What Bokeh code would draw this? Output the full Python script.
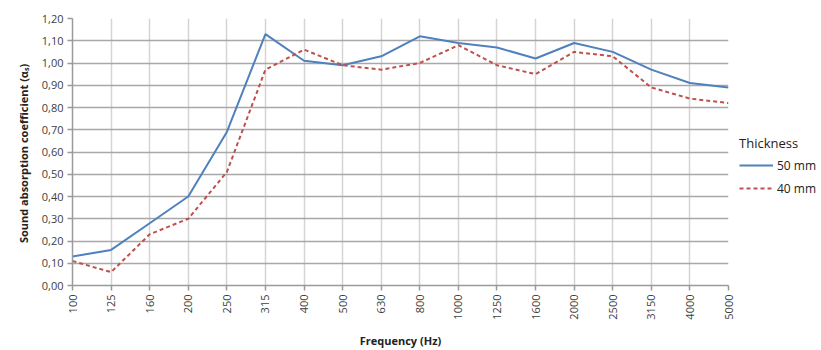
import math
from bokeh.plotting import figure
from bokeh.layouts import row
from bokeh.models import (Range1d, FixedTicker, CustomJSTickFormatter, Legend, LegendItem)
from bokeh.embed import file_html
from bokeh.resources import INLINE

frequencies = ["100", "125", "160", "200", "250", "315", "400", "500", "630", "800",
               "1000", "1250", "1600", "2000", "2500", "3150", "4000", "5000"]
alpha_50mm = [0.13, 0.16, 0.28, 0.40, 0.69, 1.13, 1.01, 0.99, 1.03, 1.12,
              1.09, 1.07, 1.02, 1.09, 1.05, 0.97, 0.91, 0.89]
alpha_40mm = [0.11, 0.06, 0.23, 0.30, 0.51, 0.97, 1.06, 0.99, 0.97, 1.00,
              1.08, 0.99, 0.95, 1.05, 1.03, 0.89, 0.84, 0.82]
y_ticks = [0.0, 0.1, 0.2, 0.3, 0.4, 0.5, 0.6, 0.7, 0.8, 0.9, 1.0, 1.1, 1.2]
series_names = ["50 mm", "40 mm"]

idx = list(range(len(frequencies)))
FONT = "Open Sans"
TXT = "#404040"
C50 = "#4F81BD"
C40 = "#C0504D"

p = figure(width=735, height=350, output_backend="svg", toolbar_location=None,
           x_range=Range1d(0, len(frequencies) - 1), y_range=Range1d(0, 1.2),
           min_border_left=72, min_border_right=7, min_border_top=18, min_border_bottom=62)
p.outline_line_color = None

p.xaxis.ticker = FixedTicker(ticks=idx)
p.xaxis.formatter = CustomJSTickFormatter(args=dict(labels=frequencies),
                                          code="return labels[Math.round(tick)];")
p.xaxis.major_label_orientation = math.pi / 2
p.yaxis.ticker = FixedTicker(ticks=y_ticks)
p.yaxis.formatter = CustomJSTickFormatter(code="return tick.toFixed(2).replace('.', ',');")

for ax in (p.xaxis[0], p.yaxis[0]):
    ax.axis_line_color = "#9a9a9a"
    ax.axis_line_width = 1.5
    ax.major_tick_line_color = "#9a9a9a"
    ax.major_tick_line_width = 1.5
    ax.major_tick_out = 5
    ax.major_tick_in = 0
    ax.minor_tick_line_color = None
    ax.major_label_text_font = FONT
    ax.major_label_text_font_size = "11px"
    ax.major_label_text_color = TXT
    ax.axis_label_text_font = FONT
    ax.axis_label_text_font_size = "11px"
    ax.axis_label_text_font_style = "bold"
    ax.axis_label_text_color = "#222222"

p.xaxis.axis_label = "Frequency (Hz)"
p.xaxis.major_label_standoff = 4
p.xaxis.axis_label_standoff = 10
p.yaxis.axis_label = "Sound  absorption coefficient (\u03b1\u209b)"
p.yaxis.major_label_standoff = 4
p.yaxis.axis_label_standoff = 8

p.xgrid.grid_line_color = "#d4d4d4"
p.xgrid.grid_line_width = 1.5
p.ygrid.grid_line_color = "#a8a8a8"
p.ygrid.grid_line_width = 1.5

p.line(idx, alpha_50mm, line_color=C50, line_width=2)
p.line(idx, alpha_40mm, line_color=C40, line_width=2, line_dash="4 3")

# legend panel (legend proxies lie outside its visible range)
q = figure(width=86, height=350, output_backend="svg", toolbar_location=None,
           x_range=Range1d(0, 1), y_range=Range1d(0, 1),
           min_border=0, x_axis_type=None, y_axis_type=None)
q.outline_line_color = None
q.xgrid.visible = False
q.ygrid.visible = False
l50 = q.line([5, 6], [5, 6], line_color=C50, line_width=2)
l40 = q.line([5, 6], [5, 6], line_color=C40, line_width=2, line_dash="4 3")
legend = Legend(items=[LegendItem(label=series_names[0], renderers=[l50]),
                       LegendItem(label=series_names[1], renderers=[l40])],
                location=(0, 83), title="Thickness",
                title_text_font=FONT, title_text_font_size="13px", title_text_color="#222222",
                title_text_font_style="normal", title_standoff=3,
                label_text_font=FONT, label_text_font_size="12px", label_text_color="#222222",
                glyph_width=34, glyph_height=20, label_standoff=4, spacing=3,
                padding=4, margin=0,
                background_fill_alpha=0, border_line_alpha=0)
q.add_layout(legend, "center")

layout = row(p, q)
open("out.html", "w").write(file_html(layout, INLINE))
